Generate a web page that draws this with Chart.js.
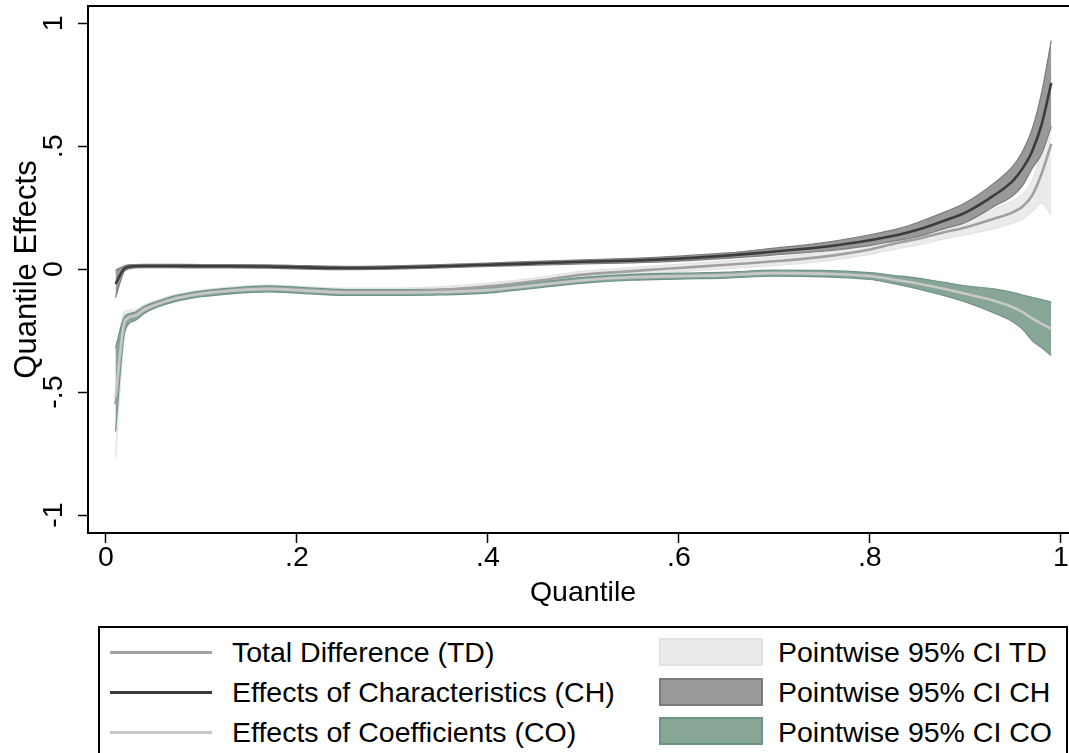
<!DOCTYPE html>
<html><head><meta charset="utf-8">
<script src="https://cdn.jsdelivr.net/npm/chart.js@4.4.1/dist/chart.umd.min.js"></script>
<style>
html,body{margin:0;padding:0;background:#fff;overflow:hidden;width:1069px;height:753px;}
#wrap{position:absolute;left:0;top:0;width:1080px;height:626px;}
.lg{position:absolute;font-family:"Liberation Sans",Arial,sans-serif;font-size:28.5px;line-height:28.5px;color:#000;white-space:nowrap;}
#legendBox{position:absolute;left:98px;top:626px;width:970px;height:200px;border:2px solid #000;box-sizing:border-box;}
.ln{position:absolute;height:3px;width:102px;left:110px;}
.sw{position:absolute;left:659px;width:104px;height:28px;box-sizing:border-box;border:2px solid #000;}
</style>
</head><body>
<div id="wrap"><canvas id="c" width="1080" height="626"></canvas></div>
<div id="legendBox"></div>
<div id="legend"></div>
<script>
// ---- data ----
const quantiles = [0.01,0.02,0.03,0.04,0.05,0.07,0.10,0.13,0.17,0.20,0.25,0.30,0.35,0.40,0.45,0.50,0.55,0.60,0.65,0.70,0.75,0.80,0.83,0.85,0.88,0.90,0.93,0.95,0.96,0.97,0.98,0.99];

const tdLine = [-0.55,-0.205,-0.185,-0.162,-0.145,-0.12,-0.098,-0.086,-0.078,-0.082,-0.09,-0.09,-0.085,-0.07,-0.048,-0.022,-0.008,0.005,0.018,0.032,0.05,0.08,0.108,0.123,0.152,0.17,0.205,0.232,0.255,0.30,0.39,0.51];
const tdLow  = [-0.77,-0.26,-0.21,-0.18,-0.162,-0.135,-0.112,-0.1,-0.092,-0.095,-0.103,-0.103,-0.098,-0.083,-0.061,-0.036,-0.022,-0.01,0.002,0.015,0.032,0.06,0.085,0.098,0.125,0.14,0.165,0.188,0.205,0.235,0.27,0.22];
const tdHigh = [-0.33,-0.17,-0.165,-0.145,-0.13,-0.106,-0.085,-0.073,-0.065,-0.07,-0.077,-0.077,-0.072,-0.057,-0.035,-0.008,0.006,0.02,0.034,0.049,0.068,0.1,0.13,0.148,0.18,0.2,0.245,0.278,0.305,0.36,0.5,0.78];

const chLine = [-0.06,0.005,0.012,0.013,0.013,0.013,0.012,0.012,0.011,0.008,0.005,0.007,0.012,0.018,0.024,0.03,0.035,0.043,0.055,0.072,0.09,0.118,0.14,0.16,0.2,0.23,0.3,0.36,0.41,0.48,0.59,0.757];
const chLow  = [-0.115,-0.005,0.005,0.006,0.006,0.006,0.005,0.005,0.004,0.001,-0.002,0.0,0.005,0.011,0.016,0.022,0.026,0.033,0.044,0.058,0.073,0.096,0.118,0.132,0.167,0.19,0.255,0.3,0.34,0.41,0.47,0.58];
const chHigh = [-0.005,0.015,0.019,0.02,0.02,0.02,0.019,0.019,0.018,0.015,0.012,0.014,0.019,0.025,0.032,0.038,0.044,0.053,0.066,0.086,0.107,0.14,0.165,0.19,0.235,0.27,0.35,0.42,0.48,0.57,0.72,0.93];

const coLine = [-0.52,-0.21,-0.19,-0.165,-0.148,-0.122,-0.1,-0.088,-0.08,-0.085,-0.095,-0.095,-0.093,-0.085,-0.065,-0.045,-0.033,-0.028,-0.024,-0.016,-0.018,-0.028,-0.045,-0.058,-0.082,-0.1,-0.128,-0.155,-0.175,-0.2,-0.222,-0.242];
const coLow  = [-0.66,-0.25,-0.21,-0.18,-0.16,-0.134,-0.112,-0.1,-0.092,-0.097,-0.107,-0.107,-0.105,-0.097,-0.077,-0.057,-0.045,-0.04,-0.036,-0.028,-0.031,-0.042,-0.063,-0.08,-0.11,-0.133,-0.178,-0.215,-0.245,-0.29,-0.32,-0.352];
const coHigh = [-0.32,-0.19,-0.175,-0.152,-0.136,-0.11,-0.089,-0.077,-0.068,-0.073,-0.083,-0.083,-0.081,-0.073,-0.053,-0.033,-0.021,-0.016,-0.012,-0.004,-0.005,-0.014,-0.027,-0.036,-0.055,-0.068,-0.08,-0.095,-0.105,-0.114,-0.124,-0.134];

const xTickValues = [0,0.2,0.4,0.6,0.8,1];
const xTickLabels = ['0','.2','.4','.6','.8','1'];
const yTickValues = [-1,-0.5,0,0.5,1];
const yTickLabels = ['-1','-.5','0','.5','1'];

const lineLabels = ['Total Difference (TD)','Effects of Characteristics (CH)','Effects of Coefficients (CO)'];
const bandLabels = ['Pointwise 95% CI TD','Pointwise 95% CI CH','Pointwise 95% CI CO'];
const xTitle = 'Quantile';
const yTitle = 'Quantile Effects';

// ---- styles ----
const lineColors = ['#a0a0a0','#3c3c3c','#c8c8c8'];
const bandFill = ['#ebebeb','#999999','#88a698'];
const bandEdge = ['#e2e2e2','#7c7c7c','#6e9484'];

const pts = arr => quantiles.map((q,i)=>({x:q,y:arr[i]}));
const FONT = '"Liberation Sans", Arial, sans-serif';

function lineDs(label, arr, color, order){
  return {label, data: pts(arr), borderColor: color, borderWidth: 2.6, pointRadius: 0,
    cubicInterpolationMode: 'monotone', fill: false, order};
}
function bandDs(label, arr, k, order, fill){
  return {label, data: pts(arr), borderColor: bandEdge[k], borderWidth: 1.2, pointRadius: 0,
    backgroundColor: bandFill[k], cubicInterpolationMode: 'monotone', fill, order};
}

const datasets = [
  lineDs(lineLabels[2], coLine, lineColors[2], 0),
  lineDs(lineLabels[1], chLine, lineColors[1], 1),
  lineDs(lineLabels[0], tdLine, lineColors[0], 2),
  bandDs(bandLabels[2]+' hi', coHigh, 2, 3, false),
  bandDs(bandLabels[2], coLow, 2, 3, '-1'),
  bandDs(bandLabels[1]+' hi', chHigh, 1, 5, false),
  bandDs(bandLabels[1], chLow, 1, 5, '-1'),
  bandDs(bandLabels[0]+' hi', tdHigh, 0, 7, false),
  bandDs(bandLabels[0], tdLow, 0, 7, '-1'),
];

const frame = {
  id: 'frame',
  afterDraw(chart){
    const {ctx, chartArea:a} = chart;
    ctx.save(); ctx.strokeStyle = '#000'; ctx.lineWidth = 2;
    ctx.strokeRect(a.left, a.top, a.right - a.left, a.bottom - a.top);
    ctx.restore();
  }
};

new Chart(document.getElementById('c'), {
  type: 'line',
  data: { datasets },
  plugins: [frame],
  options: {
    responsive: false, animation: false, devicePixelRatio: 1,
    layout: { padding: { left: 6, top: 6, right: 2, bottom: 0 } },
    plugins: { legend: { display: false }, tooltip: { enabled: false } },
    scales: {
      x: {
        type: 'linear', min: -0.0188, max: 1.018,
        afterBuildTicks: s => { s.ticks = xTickValues.map(v => ({value: v})); },
        afterFit: s => { s.height = 93; s.paddingLeft = 0; s.paddingRight = 0; },
        ticks: { autoSkip: false, maxRotation: 0, minRotation: 0, padding: 1, color: '#000',
          font: { family: FONT, size: 28.5, lineHeight: 1 },
          callback: (v) => { const i = xTickValues.indexOf(v); return i >= 0 ? xTickLabels[i] : ''; } },
        grid: { display: true, drawOnChartArea: false, drawTicks: true, tickLength: 10, tickColor: '#000', tickWidth: 1.5 },
        border: { display: true, color: '#000', width: 2 },
        title: { display: true, text: xTitle, color: '#000', font: { family: FONT, size: 28.5, lineHeight: 1.2 },
          padding: { top: 0, bottom: 16 } }
      },
      y: {
        type: 'linear', min: -1.073, max: 1.0705,
        afterBuildTicks: s => { s.ticks = yTickValues.map(v => ({value: v})); },
        afterFit: s => { s.width = 82; s.paddingTop = 0; s.paddingBottom = 0; },
        ticks: { autoSkip: false, minRotation: 90, maxRotation: 90, crossAlign: 'center', padding: 7, color: '#000',
          font: { family: FONT, size: 28.5, lineHeight: 1 },
          callback: (v) => { const i = yTickValues.indexOf(v); return i >= 0 ? yTickLabels[i] : ''; } },
        grid: { display: true, drawOnChartArea: false, drawTicks: true, tickLength: 10, tickColor: '#000', tickWidth: 1.5 },
        border: { display: true, color: '#000', width: 2 },
        title: { display: true, text: yTitle, color: '#000', font: { family: FONT, size: 31, lineHeight: 1.2 },
          padding: { top: 3, bottom: 0 } }
      }
    }
  }
});

// ---- legend (HTML) ----
const lg = document.getElementById('legend');
const rowTop = [638, 678, 717.5];
const swTop = [638, 678, 717];
for (let k = 0; k < 3; k++) {
  const ln = document.createElement('div'); ln.className = 'ln';
  ln.style.top = (rowTop[k] + 13) + 'px'; ln.style.background = lineColors[k]; lg.appendChild(ln);
  const t1 = document.createElement('div'); t1.className = 'lg'; t1.style.left = '232px';
  t1.style.top = rowTop[k] + 'px'; t1.textContent = lineLabels[k]; lg.appendChild(t1);
  const sw = document.createElement('div'); sw.className = 'sw';
  sw.style.top = swTop[k] + 'px'; sw.style.background = bandFill[k]; sw.style.borderColor = bandEdge[k]; lg.appendChild(sw);
  const t2 = document.createElement('div'); t2.className = 'lg'; t2.style.left = '778px';
  t2.style.top = rowTop[k] + 'px'; t2.textContent = bandLabels[k]; lg.appendChild(t2);
}
</script>
</body></html>
